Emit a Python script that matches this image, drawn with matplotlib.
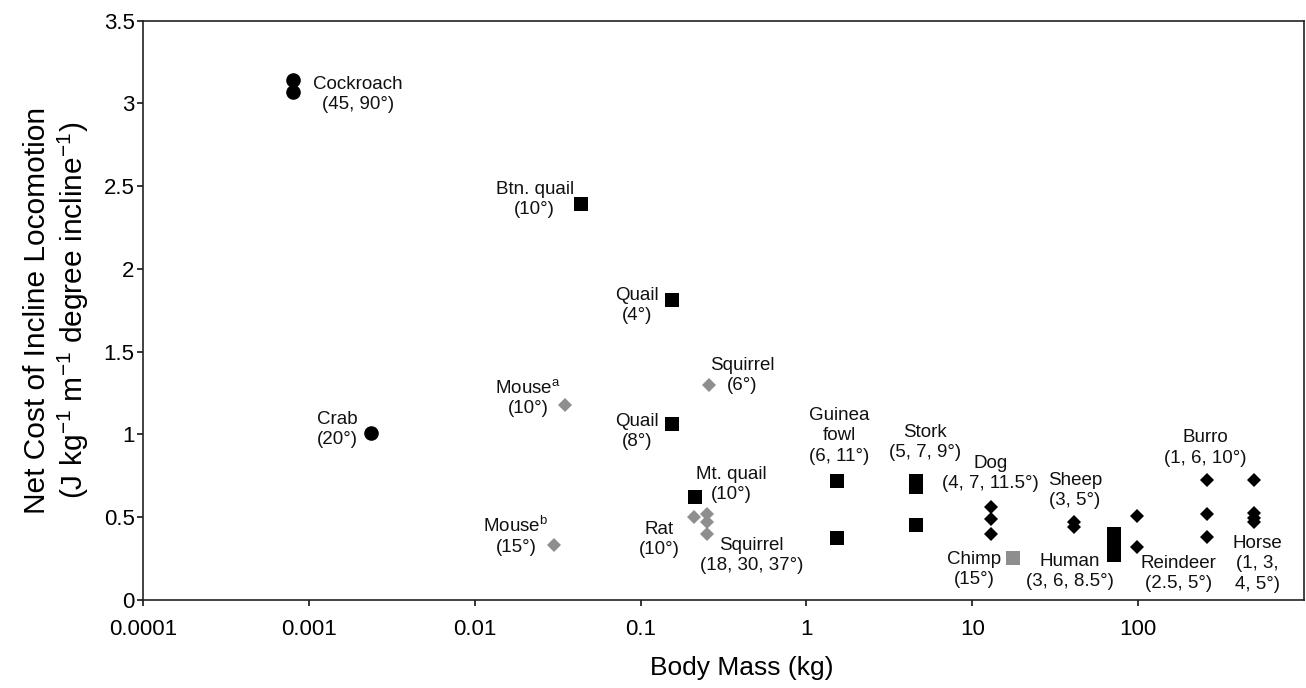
import matplotlib
matplotlib.use("Agg")
import matplotlib.pyplot as plt

plt.rcParams['font.family'] = ['Liberation Sans', 'DejaVu Sans']
plt.rcParams['mathtext.fontset'] = 'custom'
plt.rcParams['mathtext.rm'] = 'Liberation Sans'
plt.rcParams['mathtext.it'] = 'Liberation Sans:italic'

# body mass (kg) and net incline cost (J kg-1 m-1 deg-1), one entry per species group
species = ["Cockroach", "Crab", "Btn. quail", "Quail 4", "Quail 8", "Mt. quail",
           "Guinea fowl", "Stork", "Human", "Chimp", "Mouse a", "Mouse b",
           "Squirrel 6", "Rat", "Squirrel 18-37", "Dog", "Sheep", "Reindeer",
           "Burro", "Horse"]
mass_kg = [0.0008, 0.00237, 0.0436, 0.155, 0.155, 0.214,
           1.52, 4.6, 71, 17.6, 0.035, 0.030,
           0.26, 0.21, 0.25, 12.9, 41, 98,
           260, 500]
cost = [[3.14, 3.07], [1.01], [2.39], [1.81], [1.06], [0.62],
        [0.72, 0.375], [0.72, 0.68, 0.455], [0.27, 0.33, 0.40], [0.255], [1.18], [0.33],
        [1.30], [0.50], [0.52, 0.47, 0.40], [0.56, 0.49, 0.40], [0.47, 0.44], [0.51, 0.32],
        [0.725, 0.52, 0.38], [0.725, 0.525, 0.495, 0.47]]
labels = ["Cockroach\n(45, 90°)", "Crab\n(20°)", "Btn. quail\n(10°)", "Quail\n(4°)",
          "Quail\n(8°)", "Mt. quail\n(10°)", "Guinea\nfowl\n(6, 11°)", "Stork\n(5, 7, 9°)",
          "Human\n(3, 6, 8.5°)", "Chimp\n(15°)", "Mouse$^{\\mathrm{a}}$\n(10°)",
          "Mouse$^{\\mathrm{b}}$\n(15°)", "Squirrel\n(6°)", "Rat\n(10°)",
          "Squirrel\n(18, 30, 37°)", "Dog\n(4, 7, 11.5°)", "Sheep\n(3, 5°)",
          "Reindeer\n(2.5, 5°)", "Burro\n(1, 6, 10°)", "Horse\n(1, 3,\n4, 5°)"]

# marker style per species
GREY = '#8e8e8e'
style = {
    "Cockroach": ('o', 'black', 10.5), "Crab": ('o', 'black', 10.5),
    "Btn. quail": ('s', 'black', 9.8), "Quail 4": ('s', 'black', 9.8),
    "Quail 8": ('s', 'black', 9.8), "Mt. quail": ('s', 'black', 9.8),
    "Guinea fowl": ('s', 'black', 9.8), "Stork": ('s', 'black', 9.8),
    "Human": ('s', 'black', 9.8), "Chimp": ('s', GREY, 9.8),
    "Mouse a": ('D', GREY, 7.5), "Mouse b": ('D', GREY, 7.5),
    "Squirrel 6": ('D', GREY, 7.5), "Rat": ('D', GREY, 7.5),
    "Squirrel 18-37": ('D', GREY, 7.5), "Dog": ('D', 'black', 7.5),
    "Sheep": ('D', 'black', 7.5), "Reindeer": ('D', 'black', 7.5),
    "Burro": ('D', 'black', 7.5), "Horse": ('D', 'black', 7.5),
}
# label offsets (pixels) from the first point of each group
label_offset = {
    "Cockroach": (65, -14), "Crab": (-34, 3), "Btn. quail": (-46, 5),
    "Quail 4": (-35, -5), "Quail 8": (-35, -7), "Mt. quail": (36, 13),
    "Guinea fowl": (3, 45), "Stork": (9, 38), "Human": (-44, -16),
    "Chimp": (-39, -12), "Mouse a": (-37, 7), "Mouse b": (-38, 9),
    "Squirrel 6": (33, 9), "Rat": (-35, -22), "Squirrel 18-37": (45, -42),
    "Dog": (0, 34), "Sheep": (1, 32), "Reindeer": (42, -58),
    "Burro": (-2, 32), "Horse": (3, -84),
}

fig = plt.figure(figsize=(13.06, 6.88), dpi=100)
ax = fig.add_axes([0.1095, 0.128, 0.889, 0.842])

for name, m, ys, lab in zip(species, mass_kg, cost, labels):
    mk, col, ms = style[name]
    ax.plot([m] * len(ys), ys, linestyle='none', marker=mk, color=col,
            markersize=ms, markeredgewidth=0)
    ax.annotate(lab, (m, ys[0]), xytext=label_offset[name], textcoords='offset pixels',
                ha='center', va='center', multialignment='center',
                fontsize=13.5, linespacing=1.25, color='#111111')

ax.set_xscale('log')
ax.set_xlim(1e-4, 1e3)
ax.set_ylim(0, 3.5)
ax.set_xticks([1e-4, 1e-3, 1e-2, 1e-1, 1, 10, 100])
ax.set_xticklabels(["0.0001", "0.001", "0.01", "0.1", "1", "10", "100"])
ax.minorticks_off()
ax.set_yticks([0, 0.5, 1, 1.5, 2, 2.5, 3, 3.5])
ax.set_yticklabels(["0", "0.5", "1", "1.5", "2", "2.5", "3", "3.5"])
ax.tick_params(axis='x', direction='out', length=4, width=1.1, labelsize=16, pad=10)
ax.tick_params(axis='y', direction='out', length=4, width=1.1, labelsize=16, pad=2)
for s in ax.spines.values():
    s.set_linewidth(1.2)
    s.set_color('#222222')

fig.text(742 / 1306, 1 - 668 / 688, "Body Mass (kg)", ha='center', va='center', fontsize=19)
fig.text(57 / 1306, 1 - 310 / 688,
         "Net Cost of Incline Locomotion\n(J kg$^{-1}$ m$^{-1}$ degree incline$^{-1}$)",
         rotation=90, ha='center', va='center', fontsize=21.5, linespacing=1.15)

fig.savefig("out.png", dpi=100)
